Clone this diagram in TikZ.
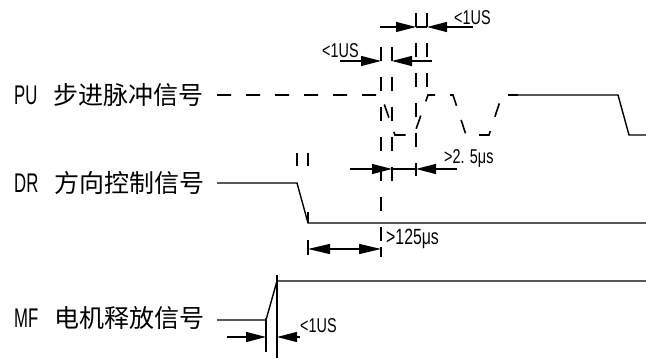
\documentclass[tikz,border=0pt]{standalone}
\usepackage{fontspec}
\setmainfont{Liberation Sans}
\newfontfamily\cjk{Noto Sans CJK SC}
\newfontfamily\bigsans[FakeStretch=0.62]{Liberation Sans}
\newfontfamily\smallsans[FakeStretch=0.72]{Liberation Sans}
\usetikzlibrary{arrows.meta}

\newcommand{\siglabel}[2]{{\bigsans\fontsize{27}{30}\selectfont #1}\hspace{16pt}{\cjk\fontsize{25}{30}\selectfont #2}}

\begin{document}
\begin{tikzpicture}[x=1pt,y=-1pt,
    wave/.style={line width=1.4pt},
    pulse/.style={line width=1.6pt, dash pattern=on 14pt off 15pt},
    guide/.style={line width=1.6pt, dash pattern=on 14pt off 16pt},
    dim/.style={line width=1.2pt, -{Triangle[length=20pt,width=10pt]}},
    dimboth/.style={line width=1.2pt, {Triangle[length=22pt,width=10pt]}-{Triangle[length=22pt,width=10pt]}},
    siglbl/.style={anchor=base west, inner sep=0pt},
    tlbl/.style={anchor=base west, inner sep=0pt, font=\smallsans\fontsize{20}{22}\selectfont}]
  \useasboundingbox (0,0) rectangle (646,358);
  % signal names
  \node[siglbl] (pu) at (14,105) {\siglabel{PU}{步进脉冲信号}};
  \node[siglbl] (dr) at (14,193) {\siglabel{DR}{方向控制信号}};
  \node[siglbl] (mf) at (14,328) {\siglabel{MF}{电机释放信号}};
  % waveforms
  \draw[pulse] (217,95) -- (381,95) -- (395,135) -- (414,135) -- (428,95) -- (453,95)
    -- (466,135) -- (489,135) -- (502,95) -- (518,95);
  \draw[wave] (518,95) -- (618,95) -- (629,135) -- (646,135);
  \draw[wave] (217,183) -- (297,183) -- (308,223) -- (646,223);
  \draw[wave] (217,320) -- (266,320) -- (277,281) -- (646,281);
  \draw[wave] (266,318) -- (266,352);
  \draw[wave] (277,275) -- (277,358);
  % timing marks
  \draw[guide] (297,153) -- (297,166);
  \draw[guide, dash pattern=on 13pt off 46pt on 11pt off 17pt on 15pt off 5pt] (308,153) -- (308,255);
  \draw[guide] (381,47) -- (381,243);
  \draw[guide] (381,247) -- (381,257);
  \draw[guide] (392,47) -- (392,182);
  \draw[guide] (416,13) -- (416,176);
  \draw[guide] (427,13) -- (427,87);
  % dimensions
  \draw[dim] (380,27) -- (416,27);
  \draw[dim] (473,27) -- (427,27);
  \draw[line width=1.2pt] (416,27) -- (427,27);
  \node[tlbl] (us1) at (454,25) {<1US};
  \draw[dim] (340,61) -- (381,61);
  \draw[dim] (432,61) -- (392,61);
  \node[tlbl] (us2) at (322,58) {<1US};
  \draw[dim] (350,169) -- (392,169);
  \draw[dim] (457,169) -- (416,169);
  \draw[line width=1.2pt] (392,169) -- (416,169);
  \node[tlbl] (t25) at (444,164) {>2. 5μs};
  \draw[dimboth] (308,249) -- (381,249);
  \node[tlbl, font=\smallsans\fontsize{22}{24}\selectfont] (t125) at (386,245) {>125μs};
  \draw[dim] (227,337) -- (266,337);
  \draw[dim] (300,337) -- (277,337);
  \node[tlbl] (us3) at (300,333) {<1US};
\end{tikzpicture}
\end{document}
